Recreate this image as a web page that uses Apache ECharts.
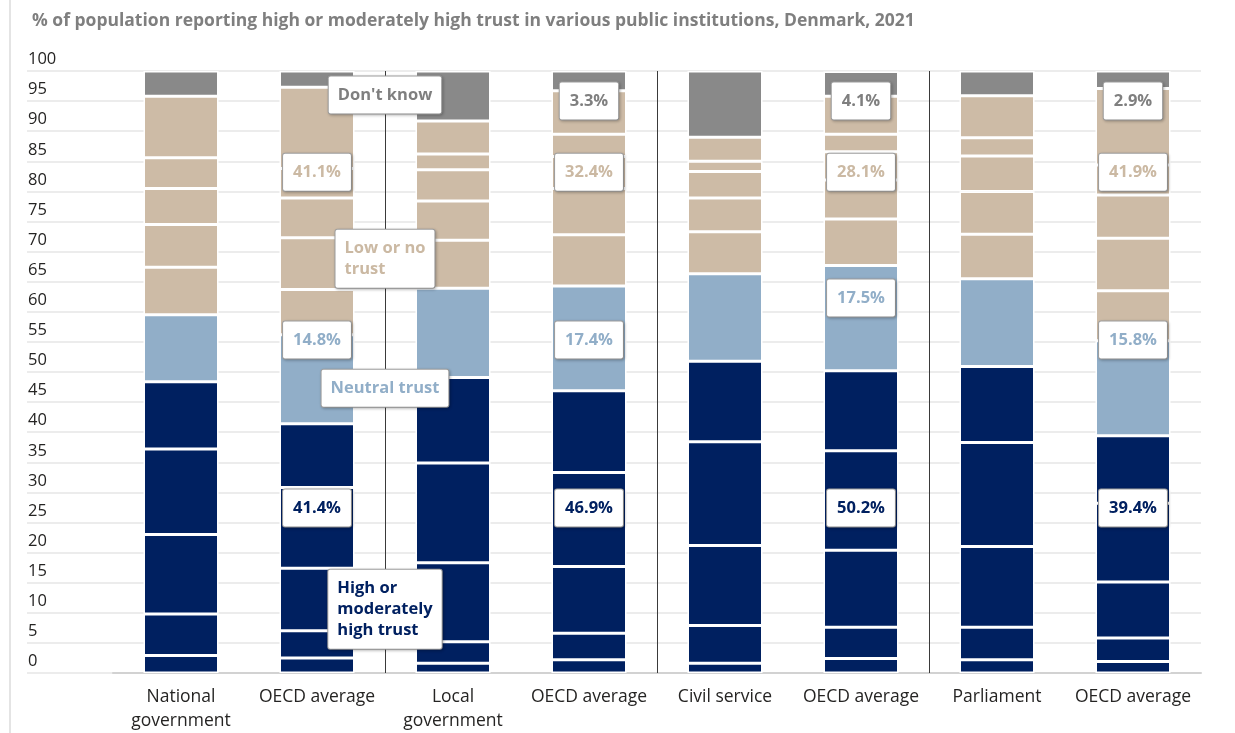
<!DOCTYPE html>
<html>
<head>
<meta charset="utf-8">
<script src="https://cdn.jsdelivr.net/npm/echarts@6/dist/echarts.min.js"></script>
<style>
  html, body { margin: 0; padding: 0; background: #ffffff; }
  #chart { width: 1235px; height: 733px; }
</style>
</head>
<body>
<div id="chart"></div>
<script>
// Trust in public institutions, Denmark vs OECD average, 2021 (share of respondents, %)
const categories = ['National\ngovernment', 'OECD average', 'Local\ngovernment', 'OECD average',
                    'Civil service', 'OECD average', 'Parliament', 'OECD average'];

// Response scale 0-10: 6-10 = high or moderately high trust, 5 = neutral, 0-4 = low or no trust
const score10 = [2.9, 2.5, 1.6, 2.2, 1.6, 2.4, 2.2, 1.9];
const score9  = [6.9, 4.5, 3.6, 4.4, 6.3, 5.2, 5.4, 3.9];
const score8  = [13.2, 10.4, 13.1, 11.1, 13.3, 12.8, 13.4, 9.3];
const score7  = [14.2, 13.4, 16.6, 15.6, 17.2, 16.5, 17.3, 13.1];
const score6  = [11.2, 10.6, 14.2, 13.6, 13.4, 13.3, 12.6, 11.2];
const score5  = [11.1, 14.8, 14.8, 17.4, 14.5, 17.5, 14.6, 15.8];
const score4  = [7.9, 7.5, 8.0, 8.5, 7.0, 7.7, 7.4, 8.3];
const score3  = [7.1, 8.6, 6.5, 7.7, 5.6, 6.5, 7.1, 8.7];
const score2  = [6.0, 6.6, 5.2, 5.3, 4.4, 4.7, 5.9, 7.2];
const score1  = [5.1, 4.9, 2.6, 3.7, 1.7, 2.9, 3.0, 5.0];
const score0  = [10.2, 13.5, 5.5, 7.2, 4.0, 6.3, 7.0, 12.7];
const dontKnow = [4.2, 2.7, 8.3, 3.3, 11.0, 4.1, 4.1, 2.9];

const yTicks = { min: 0, max: 100, step: 5 };

// Colours of the four answer groups
const C_HIGH = '#002060';
const C_NEUTRAL = '#91AEC8';
const C_LOW = '#CDBBA6';
const C_DK = '#898989';
const C_LOW_TEXT = '#CBB9A3';
const C_DK_TEXT = '#7f7f7f';

const FONT = "'Open Sans', 'Noto Sans', sans-serif";

// Stack order, bottom to top
const stackSeries = [
  { name: '10', data: score10, color: C_HIGH },
  { name: '9', data: score9, color: C_HIGH },
  { name: '8', data: score8, color: C_HIGH },
  { name: '7', data: score7, color: C_HIGH },
  { name: '6', data: score6, color: C_HIGH },
  { name: '5', data: score5, color: C_NEUTRAL },
  { name: '4', data: score4, color: C_LOW },
  { name: '3', data: score3, color: C_LOW },
  { name: '2', data: score2, color: C_LOW },
  { name: '1', data: score1, color: C_LOW },
  { name: '0', data: score0, color: C_LOW },
  { name: "Don't know", data: dontKnow, color: C_DK }
];

const sumOf = (arrays, i) => arrays.reduce((s, a) => s + a[i], 0);
const groupTotals = {
  high: categories.map((_, i) => sumOf([score10, score9, score8, score7, score6], i)),
  neutral: categories.map((_, i) => score5[i]),
  low: categories.map((_, i) => sumOf([score4, score3, score2, score1, score0], i)),
  dk: categories.map((_, i) => dontKnow[i])
};

// Percentage boxes on the OECD bars: which bars, and at what height they sit
const boxLayout = {
  dk:      { bars: [3, 5, 7],    level: 95.0, color: C_DK_TEXT },
  low:     { bars: [1, 3, 5, 7], level: 83.2, color: C_LOW_TEXT },
  neutral: { bars: [1, 3, 5, 7], level: 55.3, color: C_NEUTRAL, override: { 5: 62.3 } },
  high:    { bars: [1, 3, 5, 7], level: 27.4, color: C_HIGH }
};

// Group captions placed on the first separator
const captions = [
  { text: "Don't know", y: 96.0, color: C_DK_TEXT, lines: ["Don't know"] },
  { text: 'Low or no trust', y: 68.8, color: C_LOW_TEXT, lines: ['Low or no', 'trust'] },
  { text: 'Neutral trust', y: 47.3, color: C_NEUTRAL, lines: ['Neutral trust'] },
  { text: 'High or moderately high trust', y: 10.6, color: C_HIGH, lines: ['High or', 'moderately', 'high trust'] }
];
const separatorsAt = [1.5, 3.5, 5.5];

const boxStyle = {
  backgroundColor: '#ffffff',
  borderColor: '#a3a3a3',
  borderWidth: 1,
  borderRadius: 2,
  shadowColor: 'rgba(0,0,0,0.22)',
  shadowBlur: 3,
  shadowOffsetX: 1,
  shadowOffsetY: 1,
  fontFamily: FONT,
  fontWeight: 'bold',
  fontSize: 16.5,
  lineHeight: 21
};

const series = [];

// Empty series so the full-width value axis (labels + grid lines) is drawn
series.push({ type: 'line', xAxisIndex: 0, yAxisIndex: 0, data: [], silent: true });

stackSeries.forEach(s => {
  series.push({
    type: 'bar',
    name: s.name,
    stack: 'total',
    xAxisIndex: 1,
    yAxisIndex: 1,
    barWidth: 75,
    data: s.data,
    itemStyle: { color: s.color, borderColor: '#ffffff', borderWidth: 1.5 },
    silent: true,
    z: 2
  });
});

// Separators between institution pairs
series.push({
  type: 'line',
  xAxisIndex: 2,
  yAxisIndex: 1,
  data: [],
  silent: true,
  z: 3,
  markLine: {
    silent: true,
    symbol: ['none', 'none'],
    label: { show: false },
    lineStyle: { color: '#3a3a3a', width: 1, type: 'solid' },
    data: separatorsAt.map(x => ({ xAxis: x }))
  }
});

// Percentage boxes
Object.keys(boxLayout).forEach(key => {
  const cfg = boxLayout[key];
  series.push({
    type: 'scatter',
    xAxisIndex: 1,
    yAxisIndex: 1,
    symbolSize: 0,
    silent: true,
    z: 6,
    itemStyle: { opacity: 1 },
    data: cfg.bars.map(i => ({
      value: [i, (cfg.override && cfg.override[i] !== undefined) ? cfg.override[i] : cfg.level],
      total: groupTotals[key][i]
    })),
    label: Object.assign({
      show: true,
      position: 'inside',
      color: cfg.color,
      padding: [8, 10],
      formatter: p => p.data.total.toFixed(1) + '%'
    }, boxStyle)
  });
});

// Group captions
series.push({
  type: 'scatter',
  xAxisIndex: 2,
  yAxisIndex: 1,
  symbolSize: 0,
  silent: true,
  z: 7,
  itemStyle: { opacity: 1 },
  data: captions.map(c => ({
    value: [separatorsAt[0], c.y],
    name: c.text,
    label: {
      formatter: c.lines.map(l => '{t|' + l + '}').join('\n'),
      rich: { t: { color: c.color, align: 'left', fontFamily: FONT, fontWeight: 'bold', fontSize: 16.5, lineHeight: 21 } }
    }
  })),
  label: Object.assign({
    show: true,
    position: 'inside',
    padding: [8, 9]
  }, boxStyle)
});

const chart = echarts.init(document.getElementById('chart'), null, { renderer: 'canvas' });
chart.setOption({
  animation: false,
  backgroundColor: '#ffffff',
  title: {
    text: '% of population reporting high or moderately high trust in various public institutions, Denmark, 2021',
    left: 27,
    top: 7,
    textStyle: { fontFamily: FONT, fontWeight: 'bold', fontSize: 17.5, color: '#7f7f7f' }
  },
  graphic: [{
    type: 'line',
    shape: { x1: 10, y1: 0, x2: 10, y2: 733 },
    style: { stroke: '#e4e4e4', lineWidth: 2 },
    silent: true
  }],
  grid: [
    { left: 27, right: 34, top: 71, bottom: 60 },
    { left: 113, right: 34, top: 71, bottom: 60 }
  ],
  xAxis: [
    { gridIndex: 0, type: 'value', min: 0, max: 1, show: false },
    {
      gridIndex: 1,
      type: 'category',
      data: categories,
      axisLine: { show: true, lineStyle: { color: '#d2d2d2', width: 2 } },
      axisTick: { show: false },
      axisLabel: {
        interval: 0,
        margin: 12,
        fontFamily: FONT,
        fontSize: 17.5,
        lineHeight: 24,
        color: '#252423'
      }
    },
    { gridIndex: 1, type: 'value', min: -0.5, max: 7.5, show: false }
  ],
  yAxis: [
    {
      gridIndex: 0,
      type: 'value',
      min: yTicks.min,
      max: yTicks.max,
      interval: yTicks.step,
      axisLine: { show: false },
      axisTick: { show: false },
      splitLine: { show: true, lineStyle: { color: '#ececec', width: 2 } },
      axisLabel: {
        inside: true,
        margin: 1,
        verticalAlign: 'bottom',
        padding: [0, 0, 3, 0],
        fontFamily: FONT,
        fontSize: 16.5,
        color: '#252423'
      }
    },
    { gridIndex: 1, type: 'value', min: yTicks.min, max: yTicks.max, show: false }
  ],
  series: series
});
</script>
</body>
</html>
